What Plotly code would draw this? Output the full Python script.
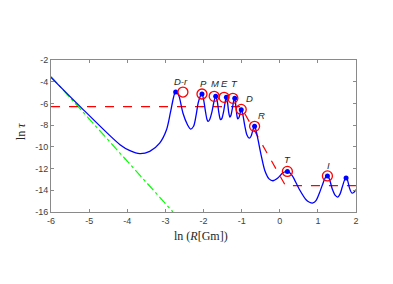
import plotly.graph_objects as go

# Blue curve
curve_x = [-6.0, -5.24, -4.19, -3.93, -3.67, -3.41, -3.15, -2.97, -2.87, -2.80, -2.76, -2.73,
           -2.69, -2.64, -2.54, -2.42, -2.34, -2.26, -2.19, -2.14, -2.08, -2.04,
           -2.00, -1.95, -1.91, -1.88, -1.84, -1.78, -1.72, -1.68,
           -1.64, -1.60, -1.57, -1.55, -1.52, -1.47, -1.43, -1.40,
           -1.37, -1.34, -1.31, -1.28, -1.24, -1.21, -1.18,
           -1.15, -1.12, -1.10, -1.07, -1.04, -1.01,
           -0.97, -0.92, -0.86, -0.80, -0.75, -0.70, -0.66, -0.62, -0.57,
           -0.48, -0.39, -0.28, -0.18, -0.05, 0.08, 0.20, 0.27, 0.34, 0.52, 0.69,
           0.78, 0.87, 0.95, 1.04, 1.17, 1.21, 1.25, 1.30, 1.38, 1.45, 1.52, 1.58,
           1.64, 1.70, 1.74, 1.78, 1.83, 1.89, 1.94, 2.0]
curve_y = [-3.6, -6.27, -9.8, -10.35, -10.63, -10.41, -9.65, -8.42, -6.88, -5.66, -5.1, -4.95,
           -5.05, -5.35, -6.88, -7.96, -8.36, -8.1, -7.0, -5.96, -5.3, -5.13,
           -5.6, -6.7, -7.45, -7.65, -7.5, -6.8, -5.75, -5.35,
           -5.8, -6.8, -7.35, -7.5, -7.4, -6.7, -5.85, -5.44,
           -5.9, -6.8, -7.25, -7.1, -6.4, -5.8, -5.53,
           -6.3, -7.2, -7.43, -7.3, -6.9, -6.58,
           -7.0, -8.0, -8.9, -9.2, -9.0, -8.4, -8.11, -8.5, -9.34,
           -10.9, -12.2, -12.95, -13.12, -12.87, -12.4, -12.26, -12.4, -12.72, -13.95, -14.87,
           -15.1, -15.17, -14.95, -14.25, -13.02, -12.75, -12.68, -12.95, -13.9, -14.45, -14.62, -14.35,
           -13.7, -13.05, -12.87, -13.1, -13.8, -14.25, -14.2, -13.95]

# Peak dots
dot_x = [-2.73, -2.04, -1.68, -1.40, -1.18, -1.01, -0.66, 0.20, 1.25, 1.74]
dot_y = [-4.95, -5.13, -5.35, -5.44, -5.53, -6.58, -8.11, -12.26, -12.68, -12.87]

# Red open circles
circ_x = [-2.54, -2.04, -1.72, -1.46, -1.23, -1.01, -0.66, 0.20, 1.25]
circ_y = [-4.95, -5.13, -5.35, -5.44, -5.53, -6.55, -8.11, -12.26, -12.68]

# Labels
lab_text = ["D-r", "P", "M", "E", "T", "D", "R", "T", "I"]
lab_x = [-2.6, -2.0, -1.69, -1.44, -1.19, -0.79, -0.48, 0.21, 1.29]
lab_y = [-4.0, -4.2, -4.2, -4.2, -4.2, -5.53, -7.13, -11.2, -11.7]

# Red dashed line
dash_x = [-6.0, -1.02, 0.15, 2.0]
dash_y = [-6.3, -6.3, -13.57, -13.57]

# Green dash-dot line
green_x = [-6.0, -2.8]
green_y = [-3.52, -16.0]

xticks = [-6, -5, -4, -3, -2, -1, 0, 1, 2]
yticks = [-2, -4, -6, -8, -10, -12, -14, -16]

fig = go.Figure()
fig.add_trace(go.Scatter(x=green_x, y=green_y, mode="lines",
                         line=dict(color="#00FF00", width=1.2, dash="dashdot")))
fig.add_trace(go.Scatter(x=dash_x, y=dash_y, mode="lines",
                         line=dict(color="#FF0000", width=1.2, dash="dash")))
fig.add_trace(go.Scatter(x=curve_x, y=curve_y, mode="lines",
                         line=dict(color="#0000FF", width=1.3, shape="spline", smoothing=0.8)))
fig.add_trace(go.Scatter(x=dot_x, y=dot_y, mode="markers",
                         marker=dict(color="#0000FF", size=5)))
fig.add_trace(go.Scatter(x=circ_x, y=circ_y, mode="markers",
                         marker=dict(symbol="circle-open", color="#FF0000", size=10,
                                     line=dict(width=1.3, color="#FF0000"))))

for t, x, y in zip(lab_text, lab_x, lab_y):
    fig.add_annotation(x=x, y=y, text="<i>" + t + "</i>", showarrow=False,
                       font=dict(family="Liberation Sans, Arial", size=9.5, color="#262626"))

serif = dict(family="Liberation Serif, Times New Roman", size=12, color="#262626")
fig.add_annotation(xref="paper", yref="paper", x=0.493, y=-0.158, text="ln (<i>R</i>[Gm])",
                   showarrow=False, font=serif, xanchor="center", yanchor="middle")
fig.add_annotation(xref="paper", yref="paper", x=-0.098, y=0.526, text="ln <i>τ</i>",
                   showarrow=False, font=serif, textangle=-90,
                   xanchor="center", yanchor="middle")

axis_common = dict(showline=True, linecolor="#8a8a8a", linewidth=1, mirror="ticks",
                   ticks="inside", ticklen=3, tickcolor="#8a8a8a", showgrid=False,
                   zeroline=False,
                   tickfont=dict(family="Liberation Sans, Arial", size=9, color="#404040"))

fig.update_xaxes(range=[-6, 2], tickvals=xticks, ticktext=[str(v) for v in xticks],
                 **axis_common)
fig.update_yaxes(range=[-16, -2], tickvals=yticks, ticktext=[str(v) for v in yticks],
                 **axis_common)

fig.update_layout(width=377, height=268, showlegend=False,
                  margin=dict(l=43, r=29, t=52, b=64),
                  plot_bgcolor="white", paper_bgcolor="white")

fig.write_html("out.html")
